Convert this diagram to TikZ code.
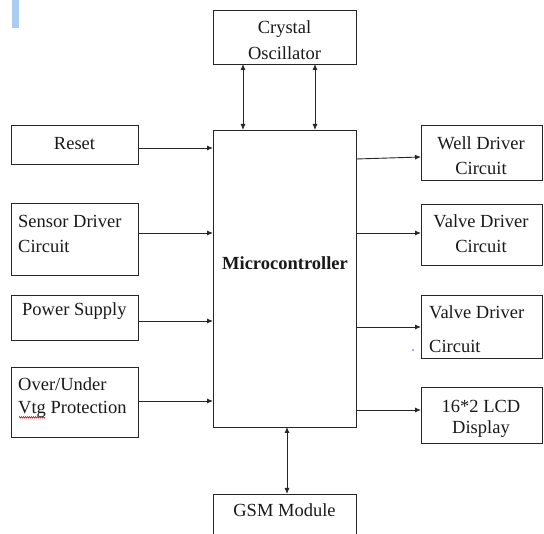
\documentclass[tikz,border=0pt]{standalone}
\usepackage{fontspec}
\setmainfont{Liberation Serif}
\usetikzlibrary{arrows.meta,decorations.pathmorphing}
\begin{document}
\begin{tikzpicture}[x=1pt,y=-1pt,
  box/.style={draw=black!85,line width=0.9pt,rectangle,anchor=north west,inner sep=0pt,outer sep=0pt},
  txt/.style={font=\fontsize{18.5}{22}\selectfont,inner sep=0pt,text=black!90},
  conn/.style={line width=0.9pt,draw=black!85,-{Latex[length=6pt,width=5pt]}},
  bconn/.style={line width=0.9pt,draw=black!85,{Latex[length=6pt,width=5pt]}-{Latex[length=6pt,width=5pt]}}]
\useasboundingbox (0,0) rectangle (544,534);
\fill[fill={rgb,255:red,168;green,205;blue,240}] (12,0) rectangle (19,28);
% boxes
\node[box,minimum width=143pt,minimum height=54pt] (xtal) at (213,10) {};
\node[box,minimum width=143pt,minimum height=297pt] (mc) at (213,130) {};
\node[box,minimum width=127pt,minimum height=39pt] (reset) at (11,125) {};
\node[box,minimum width=127pt,minimum height=72pt] (sensor) at (11,203) {};
\node[box,minimum width=127pt,minimum height=45pt] (power) at (11,295) {};
\node[box,minimum width=127pt,minimum height=70pt] (ovp) at (11,367) {};
\node[box,minimum width=121pt,minimum height=55pt] (well) at (421,125) {};
\node[box,minimum width=121pt,minimum height=61pt] (valve1) at (421,204) {};
\node[box,minimum width=121pt,minimum height=63pt] (valve2) at (421,295) {};
\node[box,minimum width=121pt,minimum height=56pt] (lcd) at (421,387) {};
\coordinate (gsmnw) at (213,494);
\coordinate (gsmne) at (356,494);
\draw[line width=0.9pt,draw=black!85] (213,540) -- (gsmnw) -- (gsmne) -- (356,540);
% texts
\node[txt] (t1) at (284.5,29) {Crystal};
\node[txt] (t2) at (284.5,53) {Oscillator};
\node[txt] (t3) at (74.5,144) {Reset};
\node[txt,anchor=west] (t4) at (18,221) {Sensor Driver};
\node[txt,anchor=west] (t5) at (18,246) {Circuit};
\node[txt,anchor=west] (t6) at (22,311) {Power Supply};
\node[txt,anchor=west] (t7) at (18,384) {Over/Under};
\node[txt,anchor=west] (t8) at (18,409) {Vtg Protection};
\node[txt,font=\fontsize{18.5}{22}\selectfont\bfseries] (t9) at (285,263) {Microcontroller};
\node[txt] (t10) at (481,143) {Well Driver};
\node[txt] (t11) at (481,168) {Circuit};
\node[txt] (t12) at (481,221) {Valve Driver};
\node[txt] (t13) at (481,246) {Circuit};
\node[txt,anchor=west] (t14) at (429,312) {Valve Driver};
\node[txt,anchor=west] (t15) at (429,346) {Circuit};
\node[txt] (t16) at (481,406) {16*2 LCD};
\node[txt] (t17) at (481,429) {Display};
\node[txt] (t18) at (284.5,510) {GSM Module};
\fill[blue!70] (413,350) circle (0.8pt);
\draw[red,line width=0.5pt,decorate,decoration={zigzag,segment length=2pt,amplitude=0.8pt}] (t8.south west) ++(1,0) -- ++(26,0);
% connectors
\draw[bconn] (xtal.south -| 243,0) -- (mc.north -| 243,0);
\draw[bconn] (xtal.south -| 315,0) -- (mc.north -| 315,0);
\draw[conn] (reset.east |- 0,148) -- (mc.west |- 0,148);
\draw[conn] (sensor.east |- 0,233) -- (mc.west |- 0,233);
\draw[conn] (power.east |- 0,321) -- (mc.west |- 0,321);
\draw[conn] (ovp.east |- 0,401) -- (mc.west |- 0,401);
\draw[conn] (mc.east |- 0,159) -- (well.west |- 0,157);
\draw[conn] (mc.east |- 0,233) -- (valve1.west |- 0,233);
\draw[conn] (mc.east |- 0,327) -- (valve2.west |- 0,327);
\draw[conn] (mc.east |- 0,410) -- (lcd.west |- 0,410);
\draw[bconn] (mc.south -| 287,0) -- (gsmnw -| 287,0);
\end{tikzpicture}
\end{document}
